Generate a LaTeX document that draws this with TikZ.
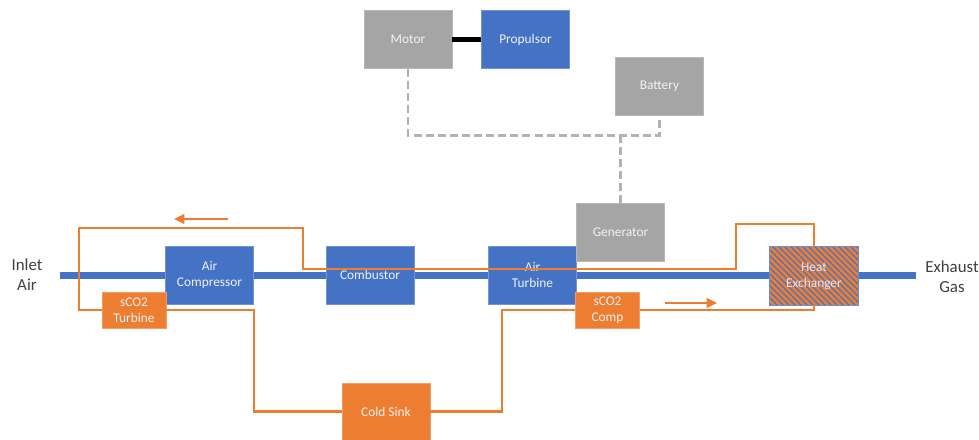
\documentclass[tikz,border=0pt]{standalone}
\usepackage{fontspec}
\setmainfont{Carlito}
\usepackage{xcolor}
\usetikzlibrary{positioning, arrows.meta}

\definecolor{ablue}{HTML}{4472C4}
\definecolor{aorange}{HTML}{ED7D31}
\definecolor{agray}{HTML}{A5A5A5}
\definecolor{atext}{HTML}{404040}

\begin{document}
\begin{tikzpicture}[
  x=0.025cm, y=-0.025cm,
  every node/.style={align=center, inner sep=2pt},
  box/.style={rectangle, minimum width=2.2cm, minimum height=1.45cm, text=white!95!black,
    font=\fontsize{9.5}{11.4}\selectfont, line width=0.5pt},
  air/.style={box, fill=ablue, draw=ablue!75!white},
  elec/.style={box, fill=agray, draw=agray!80!white},
  sco/.style={box, fill=aorange, draw=aorange!75!white, minimum width=1.6cm, minimum height=0.9cm},
  label/.style={text=atext, font=\fontsize{12}{14.2}\selectfont},
  shaft/.style={ablue, line width=5pt},
  loop/.style={aorange, line width=1.5pt},
  flow/.style={aorange, line width=1.5pt, -{Triangle[length=2.6mm, width=2.4mm]}},
  bus/.style={agray!85!white, line width=2.1pt, dash pattern=on 5.7pt off 2.9pt},
  link/.style={black, line width=3.3pt}
]
\useasboundingbox (0,0) rectangle (979,440);

% main air path
\coordinate (sin) at (60,275.5);
\coordinate (sout) at (916,275.5);
\draw[shaft] (sin) -- (sout);

\node[label] (inlet) at (27,275) {Inlet\\Air};
\node[label] (exhaust) at (952,277) {Exhaust\\Gas};

% air side
\node[air] (comp) at (209.5,275) {Air\\Compressor};
\node[air] (comb) at (370,275) {Combustor};
\node[air] (turb) at (532.5,275) {Air\\Turbine};

% heat exchanger, striped
\node[box, minimum width=2.2cm, minimum height=1.45cm] (hx) at (814,276) {};
\begin{scope}
  \clip (hx.south west) rectangle (hx.north east);
  \fill[ablue] (hx.south west) rectangle (hx.north east);
  \foreach \s in {-90,-84,...,100}
    \draw[aorange, line width=1.8pt] (hx.north west) ++(\s-8,-8) -- ++(80,80);
\end{scope}
\draw[ablue!80!white, line width=0.8pt] (hx.south west) rectangle (hx.north east);
\node[box, text=white!85!ablue] at (hx) {Heat\\Exchanger};

% electric side
\node[elec] (mo) at (408,39.5) {Motor};
\node[air] (pr) at (525.5,39.5) {Propulsor};
\node[elec] (ba) at (659.5,86) {Battery};
\node[elec] (gen) at (620.5,232.5) {Generator};

\draw[link] (mo) -- (pr);
\draw[bus] (mo.south) -- ++(0,67) -| (ba.south);
\draw[bus] (gen.north) -- ++(0,-67);

% sCO2 loop
\node[sco] (tb) at (134,310) {sCO2\\Turbine};
\node[sco] (cp) at (607.5,310) {sCO2\\Comp};
\node[sco, minimum width=2.2cm, minimum height=1.425cm] (cs) at (386,411.5) {Cold Sink};

\draw[loop] (tb.west) -- ++(-23,0) -- ++(0,-82) -- ++(224,0) -- ++(0,41)
  -- ++(433,0) -- ++(0,-45) -| (hx.north);
\draw[loop] (hx.south) |- (cp.east);
\draw[loop] (cp.west) -- ++(-73,0) |- (cs.east);
\draw[loop] (tb.east) -- ++(88,0) |- (cs.west);

\coordinate (fl1) at (228,219);
\coordinate (fl2) at (665,303);
\draw[flow] (fl1) -- ++(-54,0);
\draw[flow] (fl2) -- ++(52,0);
\end{tikzpicture}
\end{document}
